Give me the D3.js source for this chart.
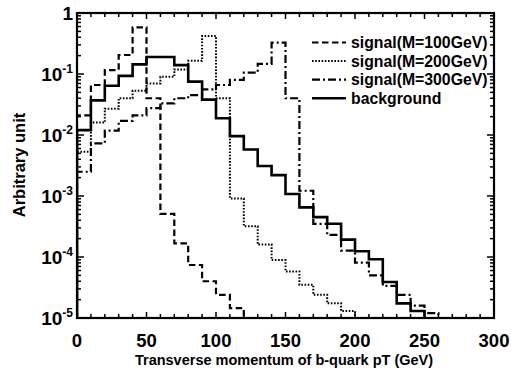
<!DOCTYPE html>
<html><head><meta charset="utf-8">
<script src="https://cdn.jsdelivr.net/npm/d3@7"></script>
<style>body{margin:0;background:#fff}svg{display:block}text{font-family:"Liberation Sans",Arial,sans-serif;font-weight:bold;fill:#000}</style>
</head><body><svg id="c" width="511" height="371"></svg>
<script>
const binWidth = 10;
const sig100 = [0.021,0.066,0.116,0.205,0.58,0.040,5.1e-4,1.67e-4,7.4e-5,4e-5,2.4e-5,1.45e-5];
const sig200 = [0.0053,0.016,0.027,0.040,0.053,0.070,0.090,0.119,0.165,0.42,0.040,9.1e-4,3.2e-4,1.6e-4,8.9e-5,5.8e-5,3.5e-5,2.4e-5,1.74e-5,1.3e-5];
const sig300 = [0.0025,0.0073,0.0118,0.017,0.021,0.0275,0.033,0.040,0.045,0.056,0.066,0.080,0.105,0.146,0.326,0.040,0.00122,3.5e-4,2.3e-4,1.27e-4,8.1e-5,5e-5,3.35e-5,2.4e-5,1.6e-5,1.2e-5];
const background = [0.012,0.037,0.064,0.093,0.144,0.19,0.19,0.14,0.075,0.038,0.0188,0.0096,0.0058,0.0031,0.0022,0.00108,6.5e-4,4.5e-4,3.5e-4,1.93e-4,1.24e-4,9.2e-5,3.9e-5,1.74e-5,1.3e-5];
const seriesNames = ["signal(M=100GeV)","signal(M=200GeV)","signal(M=300GeV)","background"];
const xTicks = [0,50,100,150,200,250,300];
const yExps = [0,-1,-2,-3,-4,-5];
const xTitle = "Transverse momentum of b-quark pT (GeV)";
const yTitle = "Arbitrary unit";

const L=77,R=494,T=13,B=318;
const svg=d3.select("#c");
const x=d3.scaleLinear().domain([0,300]).range([L,R]);
const y=d3.scaleLog().domain([1e-5,1]).range([B,T]);

const styles=[
 {dash:"6.5,3.5",w:2.2},
 {dash:"1.6,1.6",w:2},
 {dash:"8,3,2,3",w:2.2},
 {dash:null,w:2.6}
];
const data=[sig100,sig200,sig300,background];

svg.append("clipPath").attr("id","clip").append("rect").attr("x",L).attr("y",T).attr("width",R-L).attr("height",B-T);

function stepPts(vals){
  const pts=[[0,1e-5]];
  vals.forEach((v,i)=>{pts.push([i*binWidth,v]);pts.push([(i+1)*binWidth,v]);});
  pts.push([vals.length*binWidth,1e-5]);
  return pts;
}
const line=d3.line().x(d=>x(d[0])).y(d=>y(d[1]));
data.forEach((vals,i)=>{
  svg.append("path").attr("d",line(stepPts(vals))).attr("fill","none").attr("stroke","#000")
   .attr("stroke-width",styles[i].w).attr("stroke-dasharray",styles[i].dash).attr("clip-path","url(#clip)");
});

// axes
const g=svg.append("g").attr("stroke","#000");
const minorX=d3.range(0,301,10);
minorX.forEach(v=>{
  const len = v%50===0?6:4;
  g.append("line").attr("x1",x(v)).attr("x2",x(v)).attr("y1",B).attr("y2",B-len).attr("stroke-width",1.5);
  g.append("line").attr("x1",x(v)).attr("x2",x(v)).attr("y1",T).attr("y2",T+len).attr("stroke-width",1.5);
});
const minorY=[];
for(let e=-5;e<0;e++){for(let m=1;m<10;m++){minorY.push([m*Math.pow(10,e),m===1]);}}
minorY.push([1,true]);
minorY.forEach(([v,maj])=>{
  const len=maj?7:4;
  g.append("line").attr("x1",L).attr("x2",L+len).attr("y1",y(v)).attr("y2",y(v)).attr("stroke-width",1.5);
  g.append("line").attr("x1",R).attr("x2",R-len).attr("y1",y(v)).attr("y2",y(v)).attr("stroke-width",1.5);
});
svg.append("rect").attr("x",L).attr("y",T).attr("width",R-L).attr("height",B-T).attr("fill","none").attr("stroke","#000").attr("stroke-width",2.2);

// tick labels
xTicks.forEach(v=>{
  svg.append("text").attr("x",x(v)).attr("y",B+29).attr("text-anchor","middle").attr("font-size",18.5).text(v);
});
yExps.forEach(e=>{
  const t=svg.append("text").attr("x",73).attr("y",y(Math.pow(10,e))+7).attr("text-anchor","end").attr("font-size",19);
  if(e===0){t.text("1");}
  else{t.append("tspan").text("10");t.append("tspan").attr("dy",-8).attr("font-size",12).text(String(e));}
});

// titles
svg.append("text").attr("x",284).attr("y",365).attr("text-anchor","middle").attr("font-size",14.5).text(xTitle);
svg.append("text").attr("transform","translate(25,165) rotate(-90)").attr("text-anchor","middle").attr("font-size",16.5).text(yTitle);

// legend
const lg=svg.append("g");
seriesNames.forEach((n,i)=>{
  const yy=42.5+i*18.6;
  lg.append("line").attr("x1",312).attr("x2",346).attr("y1",yy).attr("y2",yy).attr("stroke","#000")
    .attr("stroke-width",styles[i].w).attr("stroke-dasharray",styles[i].dash);
  lg.append("text").attr("x",351).attr("y",yy+5.5).attr("font-size",15.8).text(n);
});
</script></body></html>
